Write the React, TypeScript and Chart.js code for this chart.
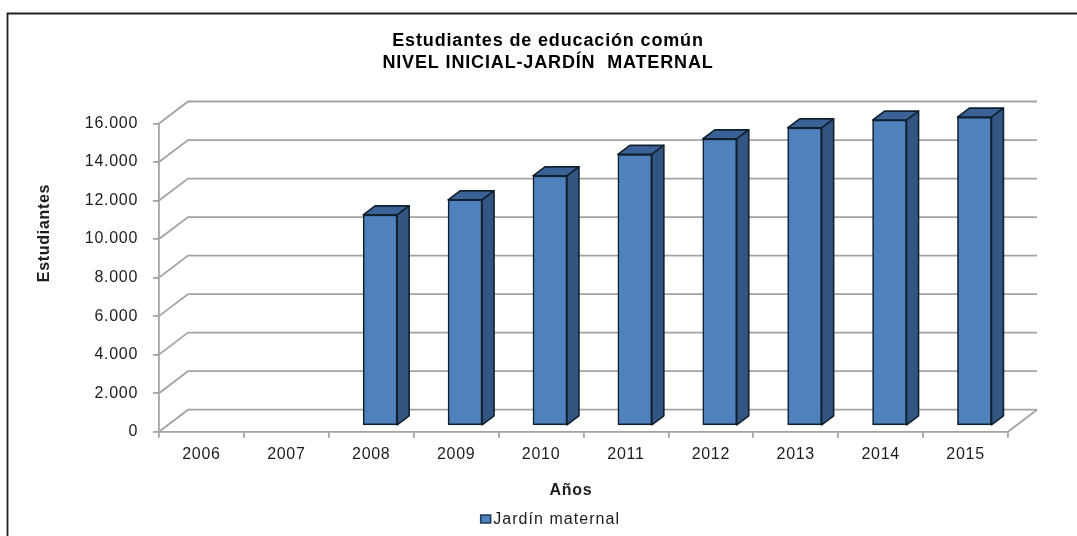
import React, { useEffect, useRef } from "react";
import { Chart, registerables } from "chart.js";

Chart.register(...registerables);

const years = ["2006", "2007", "2008", "2009", "2010", "2011", "2012", "2013", "2014", "2015"];
const students = [null, null, 10945, 11725, 12970, 14085, 14890, 15460, 15865, 16020];
const titleLines = ["Estudiantes de educación común", "NIVEL INICIAL-JARDÍN  MATERNAL"];
const seriesName = "Jardín maternal";
const xAxisTitle = "Años";
const yAxisTitle = "Estudiantes";

const FONT = '"Liberation Sans", Arial, sans-serif';
const TEXT = "#1c1c1c";
const GRID = "#a3a3a3";
const FACE = "#4f81bd";
const SIDE = "#325681";
const TOP = "#3a6296";
const EDGE = "#10202f";

// Oblique depth of the chart floor and of the bars standing inside it.
const WALL_DX = 29;
const WALL_DY = -22;
const BAR_SHIFT_X = 8.9;
const BAR_SHIFT_Y = -6;
const BAR_DX = 12;
const BAR_DY = -9;
const LEGEND_NUDGE_X = 2;
const LEGEND_NUDGE_Y = 2;

const withSpacing = (box: any, spacing: string, dx = 0, dy = 0) => {
  const draw = box.draw;
  box.draw = function (area: any) {
    const ctx = box.ctx;
    const previous = ctx.letterSpacing;
    ctx.letterSpacing = spacing;
    ctx.translate(dx, dy);
    draw.call(box, area);
    ctx.translate(-dx, -dy);
    ctx.letterSpacing = previous;
  };
};

const depthPlugin: any = {
  id: "depth",
  beforeLayout(chart: any) {
    chart.ctx.letterSpacing = "0.7px";
  },
  afterLayout(chart: any) {
    // Value labels extend left of the layout padding; widen the label clip area.
    chart.scales.y.left = 0;
    if (chart.$spaced) return;
    chart.$spaced = true;
    withSpacing(chart.titleBlock, "0.85px");
    withSpacing(chart.legend, "1.05px", LEGEND_NUDGE_X, LEGEND_NUDGE_Y);
  },
  beforeDraw(chart: any) {
    const { ctx, width, height } = chart;
    ctx.save();
    ctx.fillStyle = "#ffffff";
    ctx.fillRect(0, 0, width, height);
    ctx.strokeStyle = "#222222";
    ctx.lineWidth = 1.8;
    ctx.beginPath();
    ctx.moveTo(7.5, height);
    ctx.lineTo(7.5, 13.5);
    ctx.lineTo(width, 13.5);
    ctx.stroke();
    ctx.restore();
  },
  beforeDatasetsDraw(chart: any) {
    // Back wall and floor outline, one line per value tick.
    const { ctx, chartArea, scales } = chart;
    const { left, right, bottom } = chartArea;
    ctx.save();
    ctx.strokeStyle = GRID;
    ctx.lineWidth = 1.8;
    scales.y.ticks.forEach((tick: any) => {
      const y = scales.y.getPixelForValue(tick.value);
      ctx.beginPath();
      ctx.moveTo(left, y);
      ctx.lineTo(left + WALL_DX, y + WALL_DY);
      ctx.lineTo(right + WALL_DX, y + WALL_DY);
      ctx.stroke();
    });
    ctx.beginPath();
    ctx.moveTo(right, bottom);
    ctx.lineTo(right + WALL_DX, bottom + WALL_DY);
    ctx.stroke();
    ctx.restore();
  },
  beforeDatasetDraw(chart: any, args: any) {
    const { ctx } = chart;
    ctx.save();
    ctx.translate(BAR_SHIFT_X, BAR_SHIFT_Y);
    ctx.lineJoin = "round";
    args.meta.data.forEach((bar: any, i: number) => {
      if (args.meta._parsed[i].y == null) return;
      const l = bar.x - bar.width / 2;
      const r = bar.x + bar.width / 2;
      const t = bar.y;
      ctx.strokeStyle = EDGE;
      ctx.lineWidth = 1.6;
      ctx.fillStyle = TOP;
      ctx.beginPath();
      ctx.moveTo(l, t);
      ctx.lineTo(l + BAR_DX, t + BAR_DY);
      ctx.lineTo(r + BAR_DX, t + BAR_DY);
      ctx.lineTo(r, t);
      ctx.closePath();
      ctx.fill();
      ctx.stroke();
      ctx.fillStyle = SIDE;
      ctx.beginPath();
      ctx.moveTo(r, t);
      ctx.lineTo(r + BAR_DX, t + BAR_DY);
      ctx.lineTo(r + BAR_DX, bar.base + BAR_DY);
      ctx.lineTo(r, bar.base);
      ctx.closePath();
      ctx.fill();
      ctx.stroke();
    });
  },
  afterDatasetDraw(chart: any) {
    chart.ctx.restore();
  },
  afterDraw(chart: any) {
    const { ctx } = chart;
    ctx.save();
    ctx.fillStyle = TEXT;
    ctx.font = `bold 16px ${FONT}`;
    ctx.textAlign = "center";
    ctx.textBaseline = "middle";
    ctx.fillText(xAxisTitle, 571, 490.5);
    ctx.translate(44.5, 233);
    ctx.rotate(-Math.PI / 2);
    ctx.fillText(yAxisTitle, 0, 0);
    ctx.restore();

    // Small boxed swatch sitting tight against the legend text.
    const hit = chart.legend.legendHitBoxes[0];
    if (hit) {
      ctx.save();
      ctx.fillStyle = FACE;
      ctx.strokeStyle = "#1f3a55";
      ctx.lineWidth = 1.5;
      ctx.beginPath();
      ctx.rect(hit.left - 4.5 + LEGEND_NUDGE_X, hit.top + hit.height / 2 - 3, 10, 8);
      ctx.fill();
      ctx.stroke();
      ctx.restore();
    }
  },
};

export default function App() {
  const ref = useRef<HTMLCanvasElement>(null);

  useEffect(() => {
    document.body.style.margin = "0";
    const chart = new Chart(ref.current as HTMLCanvasElement, {
      type: "bar",
      data: {
        labels: years,
        datasets: [
          {
            label: seriesName,
            data: students,
            backgroundColor: FACE,
            borderColor: EDGE,
            borderWidth: 1.6,
            borderSkipped: false,
            barThickness: 34,
            clip: false,
          } as any,
        ],
      },
      options: {
        responsive: false,
        animation: false,
        layout: { padding: { left: 88, right: 69, top: 0, bottom: 0 } },
        plugins: {
          tooltip: { enabled: false },
          title: {
            display: true,
            text: titleLines,
            color: "#000000",
            font: { family: FONT, size: 18, weight: "bold", lineHeight: 1.25 },
            padding: { top: 29.5, bottom: 49 },
          },
          legend: {
            display: true,
            position: "bottom",
            labels: {
              boxWidth: 0,
              boxHeight: 0,
              color: TEXT,
              font: { family: FONT, size: 16 },
              padding: 5.5,
            },
          },
        },
        scales: {
          x: {
            grid: { display: true, drawOnChartArea: false, drawTicks: true, tickLength: 6, color: GRID, lineWidth: 1.8 },
            border: { color: GRID, width: 1.8 },
            ticks: { color: TEXT, font: { family: FONT, size: 16 }, padding: 7, maxRotation: 0 },
            afterFit(scale: any) {
              scale.height = 72.8;
            },
          },
          y: {
            min: 0,
            max: 16000,
            grid: { display: true, drawOnChartArea: false, drawTicks: true, tickLength: 6, color: GRID, lineWidth: 1.8 },
            border: { color: GRID, width: 1.8 },
            ticks: {
              stepSize: 2000,
              color: TEXT,
              font: { family: FONT, size: 16 },
              padding: 15,
              callback: (value: any) => Number(value).toLocaleString("es-AR"),
            },
            afterFit(scale: any) {
              scale.width = 71;
            },
          },
        },
      },
      plugins: [depthPlugin],
    } as any);
    return () => chart.destroy();
  }, []);

  return (
    <div style={{ width: 1077, height: 536 }}>
      <canvas ref={ref} width={1077} height={536} style={{ display: "block" }} />
    </div>
  );
}
